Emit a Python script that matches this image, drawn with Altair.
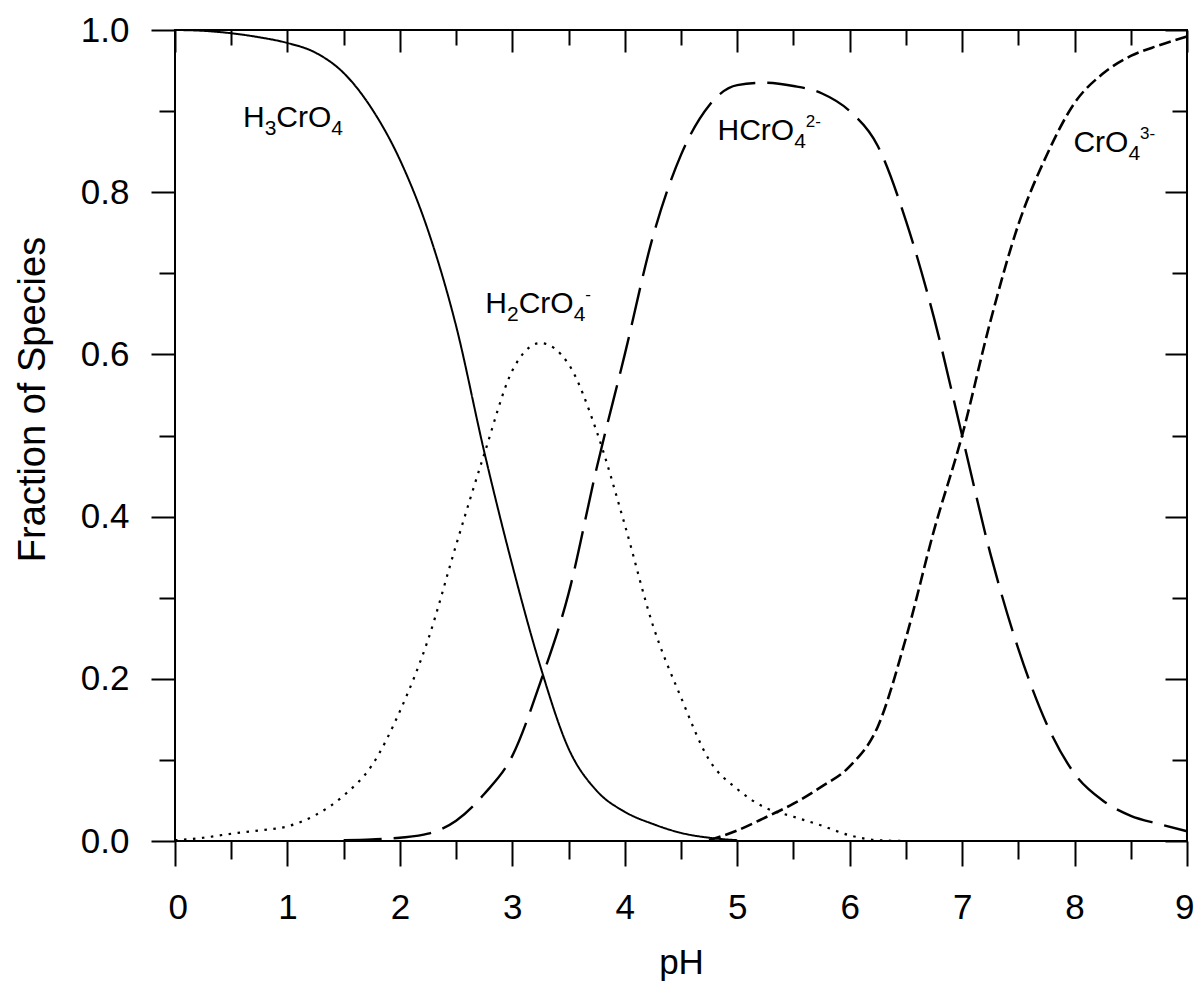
import altair as alt
import pandas as pd

# ---- data ----
ph = [0, 0.25, 0.5, 0.75, 1, 1.25, 1.5, 1.75, 2, 2.25, 2.5, 2.75, 3, 3.25, 3.5, 3.75,
      4, 4.25, 4.5, 4.75, 5, 5.25, 5.5, 5.75, 6, 6.25, 6.5, 6.75, 7, 7.25, 7.5, 7.75,
      8, 8.25, 8.5, 8.75, 9]

h3cro4 = [1.000, 0.999, 0.996, 0.991, 0.984, 0.972, 0.947, 0.903, 0.840, 0.753, 0.635,
          0.480, 0.340, 0.215, 0.114, 0.062, 0.036, 0.021, 0.010, 0.004, 0.001,
          None, None, None, None, None, None, None, None, None, None, None, None,
          None, None, None, None]

h2cro4 = [0.001, 0.004, 0.009, 0.013, 0.018, 0.032, 0.056, 0.093, 0.160, 0.248, 0.365,
          0.477, 0.580, 0.614, 0.588, 0.505, 0.390, 0.266, 0.177, 0.100, 0.064, 0.041,
          0.030, 0.019, 0.007, 0.001, 0.0, 0.0,
          None, None, None, None, None, None, None, None, None]

hcro4 = [None, None, None, None, None, None, 0.001, 0.002, 0.004, 0.009, 0.025, 0.058,
         0.105, 0.196, 0.305, 0.460, 0.600, 0.745, 0.846, 0.907, 0.932, 0.935, 0.931,
         0.922, 0.900, 0.857, 0.765, 0.645, 0.500, 0.355, 0.237, 0.145, 0.083, 0.050,
         0.031, 0.021, 0.012]

cro4 = [None, None, None, None, None, None, None, None, None, None, None, None, None,
        None, None, None, None, None, None, 0.001, 0.013, 0.029, 0.046, 0.067, 0.092,
        0.141, 0.250, 0.383, 0.500, 0.640, 0.760, 0.845, 0.910, 0.946, 0.968, 0.981,
        0.992]

species = ["H3CrO4", "H2CrO4-", "HCrO4 2-", "CrO4 3-"]
series = [h3cro4, h2cro4, hcro4, cro4]

# curve labels: pieces (text, kind) where kind is main / sub / sup
label_pieces = [
    [("H", "main"), ("3", "sub"), ("CrO", "main"), ("4", "sub")],
    [("H", "main"), ("2", "sub"), ("CrO", "main"), ("4", "sub"), ("-", "sup")],
    [("HCrO", "main"), ("4", "sub"), ("2-", "sup")],
    [("CrO", "main"), ("4", "sub"), ("3-", "sup")],
]
label_x = [0.605, 2.76, 4.825, 7.99]
label_y = [0.881, 0.651, 0.864, 0.850]

major_x = [0, 1, 2, 3, 4, 5, 6, 7, 8, 9]
minor_x = [0.5, 1.5, 2.5, 3.5, 4.5, 5.5, 6.5, 7.5, 8.5]
major_y = [0.0, 0.2, 0.4, 0.6, 0.8, 1.0]
minor_y = [0.1, 0.3, 0.5, 0.7, 0.9]

# ---- styling ----
FONT = "Liberation Sans"
W, H = 1012, 811
SIZES = {"main": 30, "sub": 21, "sup": 17}
DY = {"main": 0, "sub": 8, "sup": -13}
ADV = {"H": 0.722, "C": 0.722, "r": 0.333, "O": 0.778, "-": 0.333}  # em advances

rows = []
for name, vals in zip(species, series):
    for x, v in zip(ph, vals):
        if v is not None:
            rows.append({"pH": x, "frac": v, "species": name})
df = pd.DataFrame(rows)

px_per_unit = W / 9.0
pieces = []
for parts, lx, ly in zip(label_pieces, label_x, label_y):
    off = 0.0
    for txt, kind in parts:
        pieces.append({"pH": lx + off / px_per_unit, "frac": ly, "text": txt, "kind": kind})
        off += sum(ADV.get(ch, 0.556) for ch in txt) * SIZES[kind]
pieces = pd.DataFrame(pieces)

xscale = alt.Scale(domain=[0, 9], nice=False, zero=False)
yscale = alt.Scale(domain=[0, 1], nice=False, zero=False)


def ax(**kw):
    base = dict(grid=False, domain=False, tickColor="black", tickWidth=2,
                labelColor="black", labelFont=FONT, titleFont=FONT,
                titleColor="black", titleFontWeight="normal")
    base.update(kw)
    return alt.Axis(**base)


lines = alt.Chart(df).mark_line(color="black", interpolate="monotone").encode(
    x=alt.X("pH:Q", scale=xscale,
            axis=ax(orient="bottom", values=major_x, format="d", tickSize=25,
                    labelFontSize=35, labelPadding=24, labelFlush=True,
                    labelFlushOffset=7, labelOverlap=False, title="pH",
                    titleFontSize=35, titleBaseline="alphabetic", titleY=132)),
    y=alt.Y("frac:Q", scale=yscale,
            axis=ax(orient="left", values=major_y, format=".1f", tickSize=24,
                    labelFontSize=35, labelPadding=22, labelFlush=False,
                    labelOverlap=False, title="Fraction of Species",
                    titleFontSize=38, titleBaseline="alphabetic",
                    titleAngle=270, titleX=-131, titleY=369)),
    strokeDash=alt.StrokeDash("species:N",
                              scale=alt.Scale(domain=species,
                                              range=[[1, 0], [2.5, 6.5], [38, 12], [12, 5]]),
                              legend=None),
    strokeWidth=alt.StrokeWidth("species:N",
                                scale=alt.Scale(domain=species, range=[2, 2.6, 2.2, 2.2]),
                                legend=None),
    detail="species:N",
)


def text_layer(kind):
    return alt.Chart(pieces).transform_filter(
        alt.datum.kind == kind
    ).mark_text(align="left", baseline="alphabetic", fontSize=SIZES[kind],
                dy=DY[kind], font=FONT, color="black").encode(
        x=alt.X("pH:Q", scale=xscale, axis=None),
        y=alt.Y("frac:Q", scale=yscale, axis=None),
        text="text:N",
    )


def axis_layer(xaxis, yaxis):
    return alt.Chart(df).mark_point(opacity=0).encode(
        x=alt.X("pH:Q", scale=xscale, axis=xaxis),
        y=alt.Y("frac:Q", scale=yscale, axis=yaxis),
    )


minor_bl = axis_layer(
    ax(orient="bottom", values=minor_x, tickSize=18, labels=False, title=None),
    ax(orient="left", values=minor_y, tickSize=16, labels=False, title=None),
)
major_tr = axis_layer(
    ax(orient="top", values=major_x, tickSize=22, offset=-22, labels=False, title=None),
    ax(orient="right", values=major_y, tickSize=22, offset=-22, labels=False, title=None),
)
minor_tr = axis_layer(
    ax(orient="top", values=minor_x, tickSize=15, offset=-15, labels=False, title=None),
    ax(orient="right", values=minor_y, tickSize=15, offset=-15, labels=False, title=None),
)

chart = alt.layer(
    lines, text_layer("main"), text_layer("sub"), text_layer("sup"),
    minor_bl, major_tr, minor_tr,
).resolve_axis(
    x="independent", y="independent"
).properties(
    width=W, height=H,
    autosize=alt.AutoSizeParams(type="none"),
    padding={"left": 167, "top": 22, "right": 7, "bottom": 140},
).configure_view(stroke="black", strokeWidth=2)

chart.save("out.html", embed_options={"renderer": "svg", "actions": False})
